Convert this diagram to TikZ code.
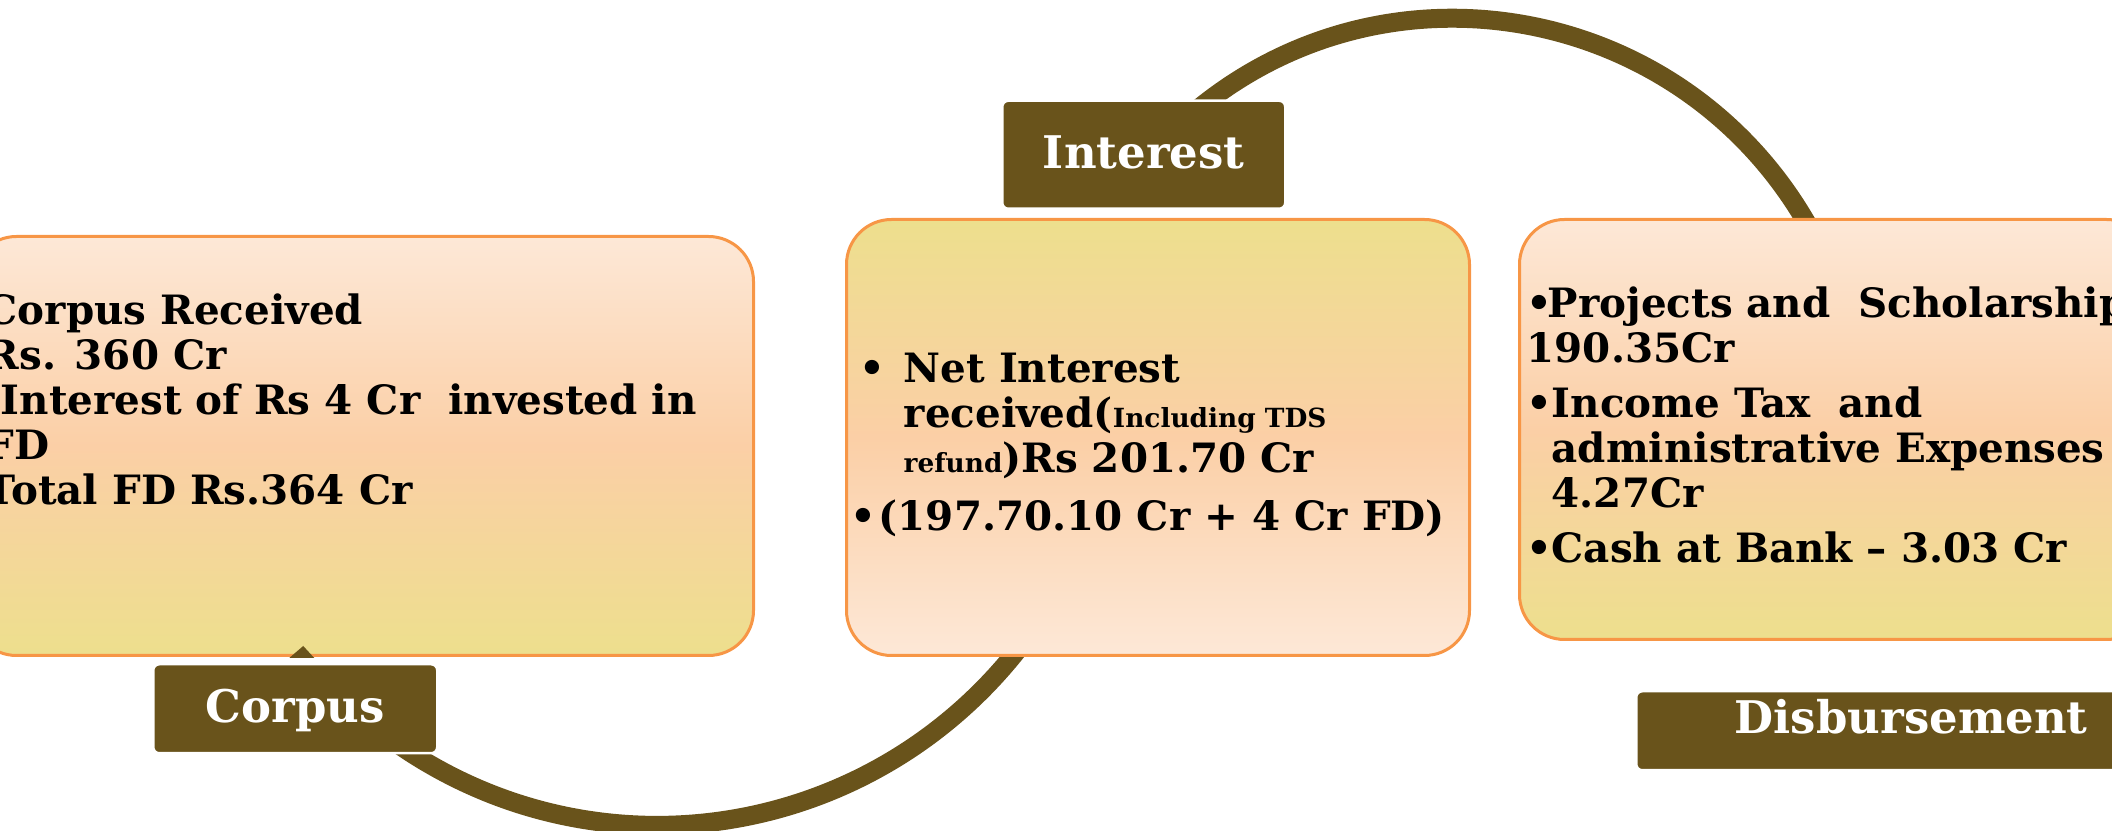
\documentclass[tikz,border=0pt]{standalone}
\usepackage{fontspec}
\setmainfont{DejaVu Serif}
\usetikzlibrary{positioning,backgrounds}

\definecolor{peachlight}{HTML}{FDE8D7}
\definecolor{peachmid}{HTML}{FBCFA6}
\definecolor{sand}{HTML}{EDDF8D}
\definecolor{rim}{HTML}{F79646}
\definecolor{bark}{HTML}{69531B}

\begin{document}
\begin{tikzpicture}[box/.style={rectangle,rounded corners=0.45cm,draw=rim,line width=0.03cm,anchor=south west},
                    peachbox/.style={box,top color=peachlight,bottom color=sand,middle color=peachmid},
                    sandbox/.style={box,top color=sand,bottom color=peachlight,middle color=peachmid},
                    tag/.style={rectangle,rounded corners=0.06cm,fill=bark,draw=white,line width=0.025cm,inner sep=0pt,
                                text=white,font=\fontsize{12.8}{14}\selectfont\bfseries,text height=0.33cm,text depth=0.06cm},
                    txt/.style={inner sep=0pt,align=left,font=\fontsize{11.5}{12.8}\selectfont\bfseries},
                    ring/.style={draw=bark,line width=0.19cm}]

  \useasboundingbox (0,0) rectangle (21.12,8.31);
  \clip (0,0) rectangle (21.12,8.31);

  \node[peachbox,minimum width=7.82cm,minimum height=4.19cm] (1) at (-0.30,1.74) {};
  \node[sandbox,minimum width=6.23cm,minimum height=4.36cm] (2) at (8.45,1.74) {};
  \node[peachbox,minimum width=6.32cm,minimum height=4.20cm] (3) at (15.18,1.90) {};

  \node[txt,below right=0.575cm and 0.15cm of 1.north west] (7)
    {\strut Corpus Received\\Rs. 360 Cr\\\hspace*{0.15cm}Interest of Rs 4 Cr\ \ invested in\\FD\\Total FD Rs.364 Cr};
  \node[txt,below right=1.325cm and 0.05cm of 2.north west] (8)
    {\strut\hspace*{0.09cm}\makebox[0.44cm][l]{•}Net Interest\\
     \hspace*{0.53cm}received({\fontsize{7.5}{12.8}\selectfont Including TDS}\\
     \hspace*{0.53cm}{\fontsize{7.5}{12.8}\selectfont refund})Rs 201.70 Cr\\[0.13cm]
     \makebox[0.28cm][l]{•}(197.70.10 Cr + 4 Cr FD)};
  \node[txt,below right=0.675cm and 0.08cm of 3.north west] (9)
    {\strut\makebox[0.21cm][l]{•}Projects and\ \ Scholarships\\
     190.35Cr\\[0.1cm]
     \makebox[0.25cm][l]{•}Income Tax\ \ and\\
     \hspace*{0.25cm}administrative Expenses\\
     \hspace*{0.25cm}4.27Cr\\[0.1cm]
     \makebox[0.25cm][l]{•}Cash at Bank – 3.03 Cr};

  \node[tag,minimum width=2.84cm,minimum height=0.89cm,below right=0.06cm and 1.82cm of 1.south west] (4) {Corpus};
  \node[tag,minimum width=2.83cm,minimum height=1.08cm,above right=0.08cm and 1.56cm of 2.north west] (5) {Interest};
  \node[tag,minimum width=5.50cm,minimum height=0.79cm,text depth=0.27cm,below right=0.49cm and 1.17cm of 3.south west] (6) {Disbursement};

  \fill[bark] ([shift={(-0.06,0.05)}]4.north) -- ([shift={(0.08,0.17)}]4.north) -- ([shift={(0.19,0.05)}]4.north) -- cycle;

  \begin{scope}[on background layer]
    \draw[ring] ([shift={(-0.462,-0.315)}]4.east) .. controls +(2.055,-1.467) and +(-1.485,-2.043) .. ([shift={(1.84,0.221)}]2.south west);
    \draw[ring] ([shift={(0.415,-0.203)}]5.north) .. controls +(1.974,1.748) and +(-1.237,2.327) .. ([shift={(2.96,-0.182)}]3.north west);
  \end{scope}
\end{tikzpicture}
\end{document}
